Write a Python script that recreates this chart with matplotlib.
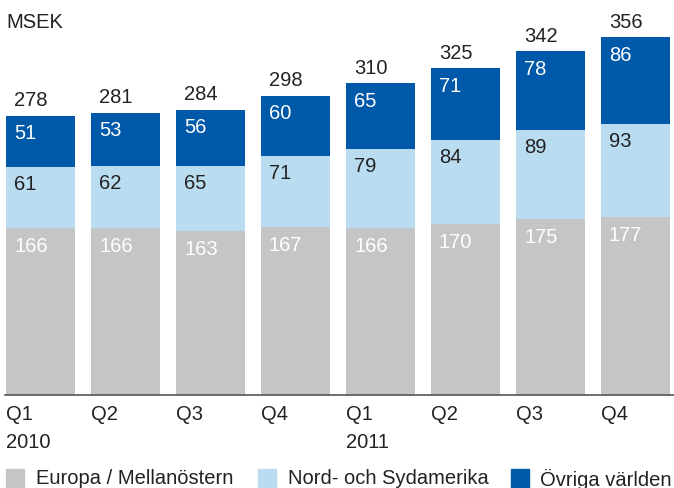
import matplotlib.pyplot as plt
from matplotlib.patches import Rectangle

plt.rcParams['font.family'] = ['Liberation Sans', 'DejaVu Sans']

quarters = ['Q1\n2010', 'Q2', 'Q3', 'Q4', 'Q1\n2011', 'Q2', 'Q3', 'Q4']
europa = [166, 166, 163, 167, 166, 170, 175, 177]
amerika = [61, 62, 65, 71, 79, 84, 89, 93]
ovriga = [51, 53, 56, 60, 65, 71, 78, 86]
totals = [278, 281, 284, 298, 310, 325, 342, 356]
names = ['Europa / Mellanöstern', 'Nord- och Sydamerika', 'Övriga världen']

grey = '#c3c5c7'
light = '#badcf1'
dark = '#0058a8'
txt = '#222222'

W, H = 674, 488
fig = plt.figure(figsize=(W / 100, H / 100), dpi=100)
base = 395
ax = fig.add_axes([0, (H - base) / H, 1, base / H])
step = 85.0
pxu = 1.005
ax.set_xlim(-6 / step, (W - 6) / step)
ax.set_ylim(0, base / pxu)
ax.axis('off')

x = list(range(len(quarters)))
bw = 69 / step
ax.bar(x, europa, bw, align='edge', color=grey)
ax.bar(x, amerika, bw, bottom=europa, align='edge', color=light)
bot3 = [a + b for a, b in zip(europa, amerika)]
ax.bar(x, ovriga, bw, bottom=bot3, align='edge', color=dark)
ax.axhline(0, xmin=5 / W, xmax=1, color='#555555', lw=1.2, clip_on=False)

fs = 14.5
dx = 8 / step
for i in x:
    top1 = europa[i]
    top2 = bot3[i]
    top3 = bot3[i] + ovriga[i]
    ax.text(i + dx, top1 - 18 / pxu, str(europa[i]), color='white', fontsize=fs, va='center', ha='left')
    ax.text(i + dx, top2 - 18 / pxu, str(amerika[i]), color=txt, fontsize=fs, va='center', ha='left')
    ax.text(i + dx, top3 - 18 / pxu, str(ovriga[i]), color='white', fontsize=fs, va='center', ha='left')
    ax.text(i + dx, top3 + 15 / pxu, str(totals[i]), color=txt, fontsize=fs, va='center', ha='left')
    fig.text((6 + step * i) / W, 1 - 405 / H, quarters[i], color=txt, fontsize=fs,
             va='top', ha='left', linespacing=1.62)

fig.text(6 / W, 1 - 23 / H, 'MSEK', color=txt, fontsize=fs, va='center', ha='left')

for xs, xt, c, n in [(6, 36, grey, names[0]), (258, 288, light, names[1]), (511, 540, dark, names[2])]:
    fig.patches.append(Rectangle((xs / W, 0), 18 / W, 19 / H, transform=fig.transFigure,
                                 color=c, figure=fig))
    fig.text(xt / W, 1 - 479 / H, n, color=txt, fontsize=fs, va='center', ha='left')

fig.savefig('out.png', dpi=100, facecolor='white')
